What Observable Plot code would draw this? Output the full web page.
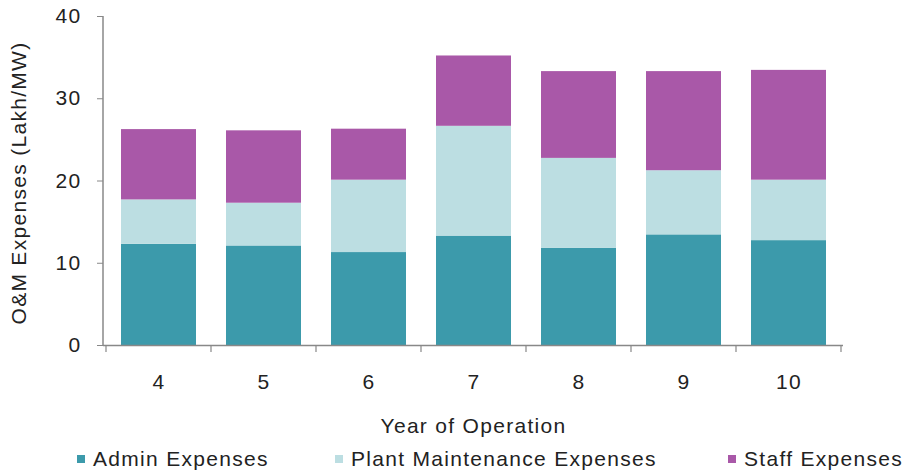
<!DOCTYPE html>
<html>
<head>
<meta charset="utf-8">
<script src="https://cdn.jsdelivr.net/npm/d3@7"></script>
<script src="https://cdn.jsdelivr.net/npm/@observablehq/plot@0.6"></script>
<style>
  html, body { margin: 0; padding: 0; background: #fff; }
  #chart svg { display: block; font-family: "Liberation Sans", Arial, sans-serif; }
  #chart svg text { letter-spacing: 1.3px; }
  #legend { position: relative; width: 911px; height: 32px; font-family: "Liberation Sans", Arial, sans-serif; font-size: 21px; letter-spacing: 1.3px; color: #222; }
  #legend .item { position: absolute; top: 0; display: flex; align-items: center; height: 30px; }
  #legend .sw { width: 8px; height: 8px; margin-right: 8px; }
</style>
</head>
<body>
<div id="chart"></div>
<div id="legend"></div>
<script>
const years = ["4", "5", "6", "7", "8", "9", "10"];
const admin = [12.3, 12.1, 11.3, 13.3, 11.8, 13.45, 12.75];
const plant = [5.4, 5.2, 8.8, 13.35, 10.95, 7.8, 7.35];
const staff = [8.55, 8.8, 6.2, 8.55, 10.55, 12.05, 13.35];
const seriesNames = ["Admin Expenses", "Plant Maintenance Expenses", "Staff Expenses"];
const seriesColors = ["#3c9aab", "#bcdee2", "#a958a8"];
const yTicks = [0, 10, 20, 30, 40];
const xTitle = "Year of Operation";
const yTitle = "O&M Expenses (Lakh/MW)";

const seriesValues = [admin, plant, staff];
const rows = [];
years.forEach((yr, i) => {
  seriesNames.forEach((s, j) => rows.push({year: yr, series: s, value: seriesValues[j][i]}));
});

// boundary ticks on the x axis + y axis line, computed from the scales
function axisLines(index, scales, values, dimensions) {
  const x = scales.x, y = scales.y;
  const bw = x.bandwidth ? x.bandwidth() : 0;
  const step = x.step ? x.step() : bw;
  const g = d3.create("svg:g");
  const y0 = y(0);
  const bounds = years.map(d => x(d) - (step - bw) / 2);
  bounds.push(x(years[years.length - 1]) + bw + (step - bw) / 2);
  g.selectAll("line.b").data(bounds).join("line")
    .attr("x1", d => d).attr("x2", d => d)
    .attr("y1", y0).attr("y2", y0 + 7)
    .attr("stroke", "#888").attr("stroke-width", 1.2);
  g.append("line")
    .attr("x1", dimensions.marginLeft).attr("x2", dimensions.marginLeft)
    .attr("y1", y(0)).attr("y2", y(d3.max(yTicks)))
    .attr("stroke", "#888").attr("stroke-width", 1.5);
  return g.node();
}

const chart = Plot.plot({
  width: 911,
  height: 444,
  marginTop: 16,
  marginLeft: 103,
  marginRight: 68,
  marginBottom: 99,
  style: {fontFamily: "'Liberation Sans', Arial, sans-serif", fontSize: "21px", color: "#222", background: "#fff"},
  x: {domain: years, paddingInner: 0.29, paddingOuter: 0.145, label: null},
  y: {domain: [0, 40], label: null},
  color: {domain: seriesNames, range: seriesColors},
  marks: [
    Plot.barY(rows, {x: "year", y: "value", fill: "series"}),
    Plot.ruleY([0], {stroke: "#888", strokeWidth: 1.5}),
    axisLines,
    Plot.axisY({ticks: yTicks, tickSize: 6, tickPadding: 16, stroke: "#888", fill: "#222", fontSize: 21, label: null}),
    Plot.axisX({tickSize: 0, tickPadding: 29, fill: "#222", fontSize: 21, label: null}),
    Plot.text([xTitle], {frameAnchor: "bottom", dy: 73, lineAnchor: "top", fontSize: 21, fill: "#222"}),
    Plot.text([yTitle], {frameAnchor: "left", textAnchor: "middle", rotate: -90, dx: -92, dy: 2, lineAnchor: "top", fontSize: 21, fill: "#222"})
  ]
});
document.getElementById("chart").appendChild(chart);

const legendLefts = [77, 335, 728];
const legend = d3.select("#legend");
seriesNames.forEach((s, i) => {
  const it = legend.append("div").attr("class", "item").style("left", legendLefts[i] + "px");
  it.append("div").attr("class", "sw").style("background", seriesColors[i]);
  it.append("span").text(s);
});
</script>
</body>
</html>
